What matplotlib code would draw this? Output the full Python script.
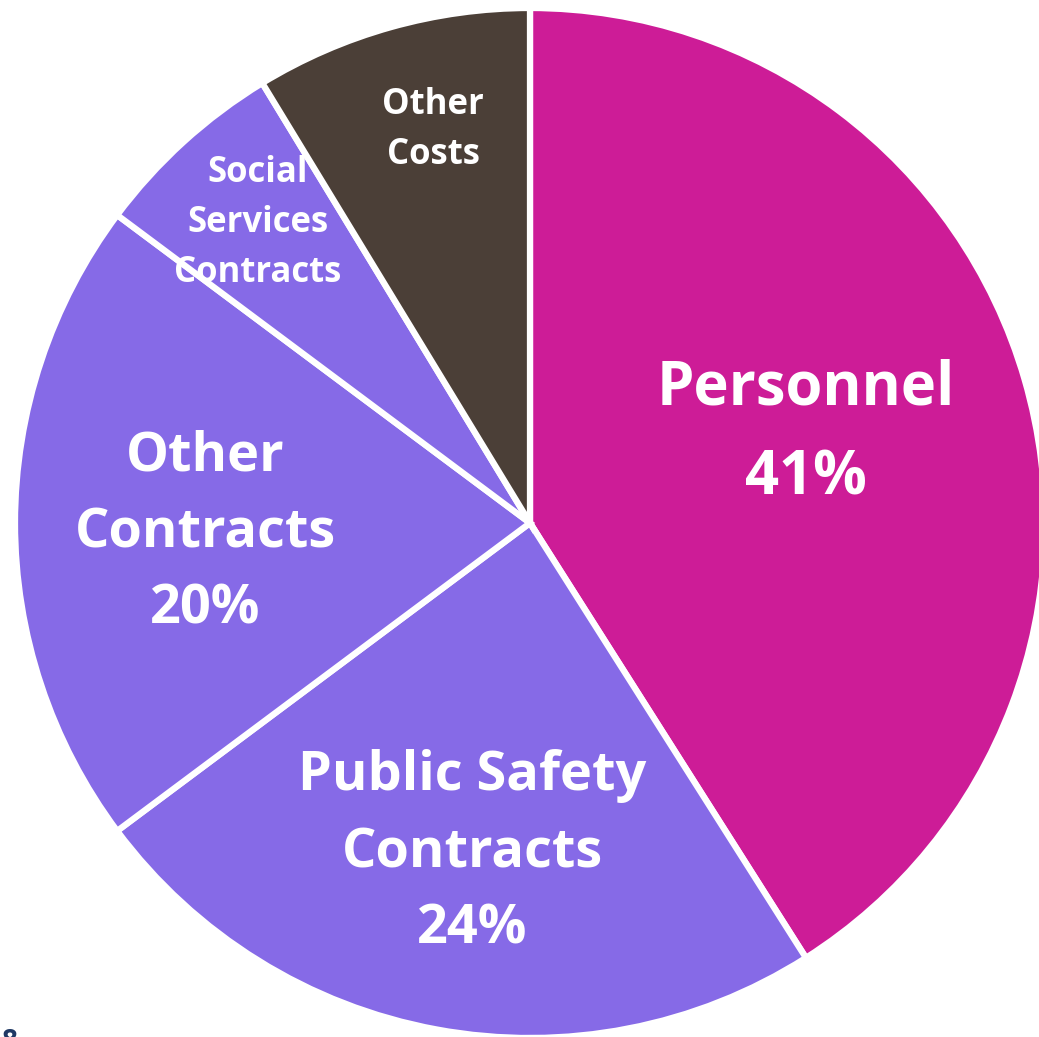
import matplotlib
matplotlib.use("Agg")
import matplotlib.pyplot as plt

categories = ["Personnel", "Public Safety\nContracts", "Other\nContracts",
              "Social\nServices\nContracts", "Other\nCosts"]
values = [41.0, 23.8, 20.4, 6.1, 8.7]
pct_labels = ["41%", "24%", "20%", "", ""]
colors = ["#CD1C97", "#866AE7", "#866AE7", "#866AE7", "#4B3F37"]

W, H = 1039, 1037
cx, cy, R = 530, 523, 515

fig = plt.figure(figsize=(W / 100, H / 100), dpi=100)
ax = fig.add_axes([0, 0, 1, 1])
ax.pie(values, colors=colors, startangle=90, counterclock=False, radius=1.0,
       center=(0, 0),
       wedgeprops=dict(edgecolor="white", linewidth=4.5))
ax.set_xlim(-cx / R, (W - cx) / R)
ax.set_ylim(-(H - cy) / R, cy / R)
ax.set_aspect("equal")
ax.axis("off")

def px(x, y):
    return (x - cx) / R, (cy - y) / R

font = "Open Sans"
# label positions in pixel centre coordinates: (x, y, index, size, linespacing)
big = [(806, 434, 0, 43, 1.65), (472, 853, 1, 39, 1.55), (205, 533, 2, 39, 1.55)]
for x, y, i, fs, ls in big:
    txt = categories[i] + ("\n" + pct_labels[i] if pct_labels[i] else "")
    ax.text(*px(x, y), txt, ha="center", va="center", color="white",
            fontsize=fs, fontweight="bold", family=font, linespacing=ls)

small = [(258, 223, 3), (433, 130, 4)]
for x, y, i in small:
    ax.text(*px(x, y), categories[i], ha="center", va="center", color="white",
            fontsize=25, fontweight="bold", family=font, linespacing=1.5)

fig.text(2 / W, 1 - 1050 / H, "8", color="#1F3864", fontsize=20,
         fontweight="bold", family=font, ha="left", va="baseline")

fig.savefig("out.png", dpi=100)
